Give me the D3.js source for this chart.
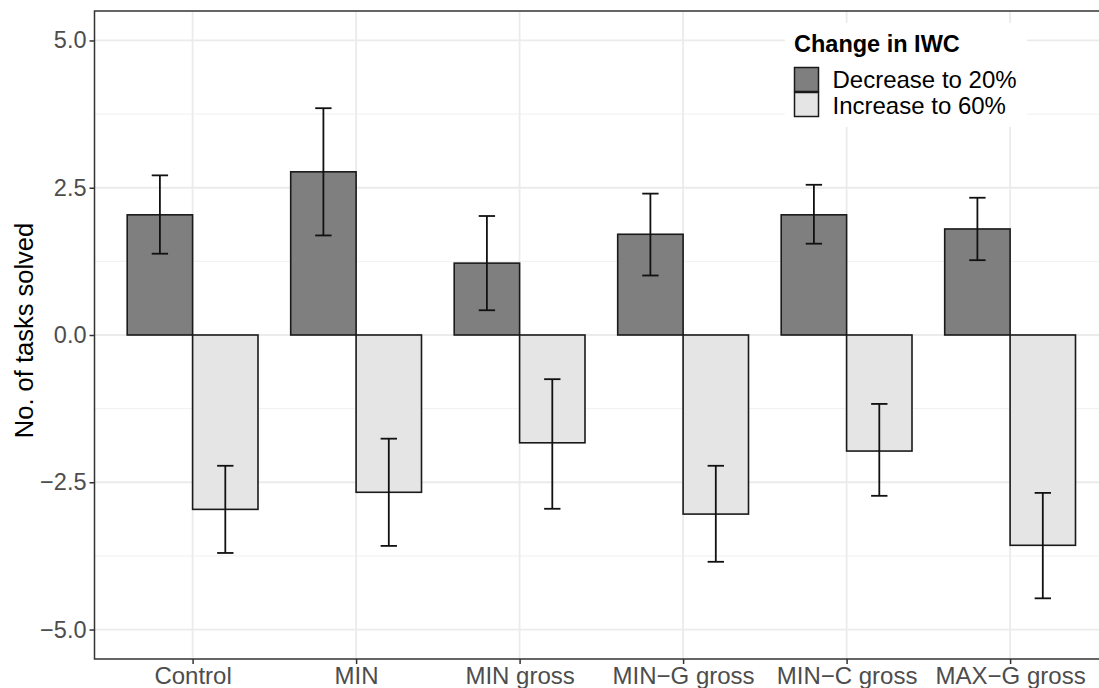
<!DOCTYPE html>
<html>
<head>
<meta charset="utf-8">
<script src="https://cdn.jsdelivr.net/npm/d3@7"></script>
<style>
  body { margin: 0; background: #fff; }
  svg { display: block; font-family: "Liberation Sans", Arial, sans-serif; }
</style>
</head>
<body>
<svg id="chart" width="1099" height="688"></svg>
<script>
// groups on the x axis
let categories = ['Control', 'MIN', 'MIN gross', 'MIN\u2212G gross', 'MIN\u2212C gross', 'MAX\u2212G gross']
let seriesNames = ['Decrease to 20%', 'Increase to 60%']

// mean change, lower and upper error bound for each series
let decrease = [2.04, 2.77, 1.22, 1.71, 2.04, 1.80]
let decreaseLo = [1.38, 1.69, 0.42, 1.01, 1.55, 1.27]
let decreaseHi = [2.71, 3.85, 2.02, 2.40, 2.55, 2.33]
let increase = [-2.96, -2.67, -1.83, -3.04, -1.97, -3.57]
let increaseLo = [-3.70, -3.58, -2.95, -3.85, -2.73, -4.47]
let increaseHi = [-2.22, -1.76, -0.75, -2.22, -1.17, -2.68]

let yTicks = [-5, -2.5, 0, 2.5, 5]
let yMinor = [-3.75, -1.25, 1.25, 3.75]

let fills = ['#7f7f7f', '#e5e5e5']

let rows = []
categories.forEach((c, i) => {
  rows.push({cat: c, s: 0, v: decrease[i], lo: decreaseLo[i], hi: decreaseHi[i]})
  rows.push({cat: c, s: 1, v: increase[i], lo: increaseLo[i], hi: increaseHi[i]})
})

let svg = d3.select('#chart')
let pLeft = 94.5, pTop = 11, pBottom = 659
let unit = 163.5
let pRight = pLeft + unit * 6.2

// discrete scale with ggplot style 0.6 expansion
let x = d3.scalePoint().domain(categories).range([pLeft + 0.6 * unit, pRight - 0.6 * unit])
let y = d3.scaleLinear().domain([-5.5, 5.5]).range([pBottom, pTop])

// grid
let grid = svg.append('g')
yMinor.forEach(v => {
  grid.append('line').attr('x1', pLeft).attr('x2', pRight).attr('y1', y(v)).attr('y2', y(v))
    .attr('stroke', '#f0f0f0').attr('stroke-width', 1)
})
yTicks.forEach(v => {
  grid.append('line').attr('x1', pLeft).attr('x2', pRight).attr('y1', y(v)).attr('y2', y(v))
    .attr('stroke', '#ebebeb').attr('stroke-width', 1.8)
})
categories.forEach(c => {
  grid.append('line').attr('x1', x(c)).attr('x2', x(c)).attr('y1', pTop).attr('y2', pBottom)
    .attr('stroke', '#ebebeb').attr('stroke-width', 1.8)
})

// bars
let bw = 0.4 * unit
let xpos = d => x(d.cat) + (d.s === 0 ? -bw : 0)
svg.append('g').selectAll('rect').data(rows).join('rect')
  .attr('x', d => xpos(d))
  .attr('width', bw)
  .attr('y', d => y(Math.max(0, d.v)))
  .attr('height', d => Math.abs(y(d.v) - y(0)))
  .attr('fill', d => fills[d.s])
  .attr('stroke', '#1a1a1a')
  .attr('stroke-width', 1.6)

// error bars
let capW = 0.1 * unit
let eb = svg.append('g').attr('stroke', '#111').attr('stroke-width', 1.8)
rows.forEach(d => {
  let cx = xpos(d) + bw / 2
  eb.append('line').attr('x1', cx).attr('x2', cx).attr('y1', y(d.lo)).attr('y2', y(d.hi))
  eb.append('line').attr('x1', cx - capW / 2).attr('x2', cx + capW / 2).attr('y1', y(d.lo)).attr('y2', y(d.lo))
  eb.append('line').attr('x1', cx - capW / 2).attr('x2', cx + capW / 2).attr('y1', y(d.hi)).attr('y2', y(d.hi))
})

// panel border
svg.append('rect').attr('x', pLeft).attr('y', pTop).attr('width', pRight - pLeft).attr('height', pBottom - pTop)
  .attr('fill', 'none').attr('stroke', '#333333').attr('stroke-width', 1.5)

// axes
let yAxis = svg.append('g').attr('transform', `translate(${pLeft},0)`)
  .call(d3.axisLeft(y).tickValues(yTicks).tickSize(5).tickPadding(3))
yAxis.select('.domain').remove()
yAxis.selectAll('line').attr('stroke', '#333333').attr('stroke-width', 1.5)
yAxis.selectAll('text').attr('fill', '#4d4d4d').attr('font-size', 23.5)
  .text(d => d3.format('.1f')(d).replace('-', '\u2212'))

let xAxis = svg.append('g').attr('transform', `translate(0,${pBottom})`)
  .call(d3.axisBottom(x).tickSize(5).tickPadding(3))
xAxis.select('.domain').remove()
xAxis.selectAll('line').attr('stroke', '#333333').attr('stroke-width', 1.5)
xAxis.selectAll('text').attr('fill', '#4d4d4d').attr('font-size', 24)

svg.append('text')
  .attr('transform', `translate(32.5,330.5) rotate(-90)`)
  .attr('text-anchor', 'middle')
  .attr('font-size', 25.5)
  .text('No. of tasks solved')

// legend
let lg = svg.append('g').attr('transform', 'translate(785,23)')
lg.append('rect').attr('width', 242).attr('height', 104).attr('fill', '#fff')
lg.append('text').attr('x', 9).attr('y', 29).attr('font-size', 23.5).attr('font-weight', 'bold').text('Change in IWC')
seriesNames.forEach((n, i) => {
  lg.append('rect').attr('x', 9.5).attr('y', 44.5 + i * 25).attr('width', 24).attr('height', 24)
    .attr('fill', fills[i]).attr('stroke', '#1a1a1a').attr('stroke-width', 1.5)
  lg.append('text').attr('x', 47.5).attr('y', 64.5 + i * 26).attr('font-size', 24).text(n)
})
</script>
</body>
</html>
